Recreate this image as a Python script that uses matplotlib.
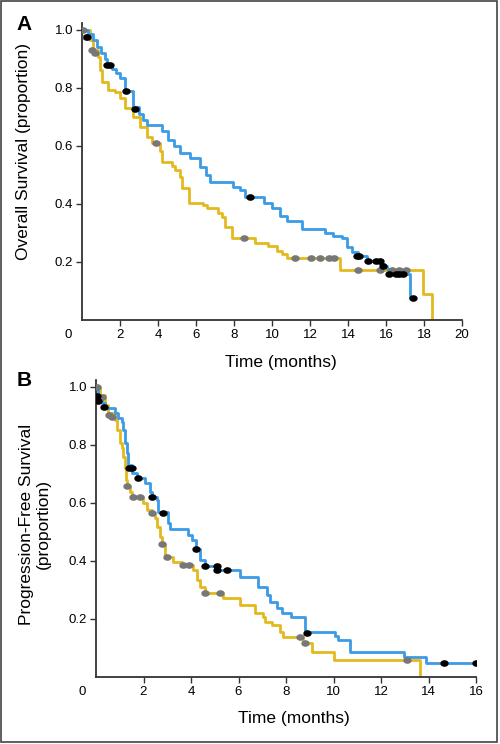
import matplotlib
matplotlib.use("Agg")
import matplotlib.pyplot as plt
from matplotlib.path import Path
from matplotlib.patches import Rectangle
import numpy as np

plt.rcParams['font.family'] = ['Liberation Sans', 'DejaVu Sans']

blue = "#3a9be6"
yellow = "#e3b91e"
grey_dot = "#777777"

# panel A - overall survival
os_blue_t = [0, 0.3, 0.58, 0.8, 1.0, 1.2, 1.3, 1.6, 1.8, 2.0, 2.25, 2.7, 3.0, 3.2, 3.42, 4.2, 4.5,
             4.85, 5.16, 5.7, 6.2, 6.5, 6.74, 7.95, 8.3, 8.6, 9.6, 10.0, 10.4, 10.8, 11.6, 12.8,
             13.2, 13.7, 13.95, 14.2, 14.5, 15.0, 15.7, 15.9, 16.05, 16.2, 17.26, 17.5]
os_blue_s = [1.0, 0.985, 0.967, 0.94, 0.92, 0.9, 0.88, 0.865, 0.85, 0.835, 0.79, 0.735, 0.71,
             0.69, 0.672, 0.65, 0.62, 0.6, 0.575, 0.558, 0.527, 0.5, 0.475, 0.46, 0.447, 0.423,
             0.405, 0.385, 0.36, 0.343, 0.315, 0.3, 0.29, 0.284, 0.25, 0.235, 0.222, 0.205,
             0.194, 0.185, 0.177, 0.16, 0.076, 0.076]
os_yel_t = [0, 0.42, 0.58, 0.84, 0.95, 1.05, 1.37, 1.74, 2.0, 2.26, 2.68, 3.05, 3.42, 3.68, 4.1,
            4.2, 4.74, 4.9, 5.16, 5.26, 5.62, 6.37, 6.58, 7.16, 7.37, 7.5, 7.9, 9.1, 9.8, 10.26,
            10.5, 10.8, 13.58, 17.95, 18.42]
os_yel_s = [1.0, 0.967, 0.932, 0.908, 0.863, 0.82, 0.794, 0.787, 0.766, 0.731, 0.70, 0.667,
            0.63, 0.61, 0.583, 0.544, 0.53, 0.516, 0.492, 0.454, 0.405, 0.395, 0.385, 0.37,
            0.354, 0.319, 0.281, 0.267, 0.256, 0.239, 0.229, 0.215, 0.173, 0.09, 0.0]
os_cens_blue_t = [0.25, 1.3, 1.45, 2.3, 2.8, 8.85, 14.47, 14.6, 15.05, 15.47, 15.7, 15.85,
                  16.15, 16.5, 16.7, 16.9, 17.4]
os_cens_blue_s = [0.975, 0.88, 0.88, 0.79, 0.728, 0.423, 0.222, 0.222, 0.205, 0.205, 0.205,
                  0.185, 0.16, 0.16, 0.16, 0.16, 0.076]
os_cens_yel_t = [0.05, 0.2, 0.53, 0.68, 3.9, 8.5, 11.2, 12.05, 12.5, 13.0, 13.26, 14.5, 15.68,
                 16.3, 16.7, 17.05]
os_cens_yel_s = [1.0, 0.975, 0.93, 0.92, 0.61, 0.281, 0.215, 0.215, 0.215, 0.215, 0.215,
                 0.173, 0.173, 0.173, 0.173, 0.173]

# panel B - progression-free survival
pfs_blue_t = [0, 0.08, 0.25, 0.38, 0.8, 0.93, 1.1, 1.14, 1.22, 1.3, 1.35, 1.52, 1.73, 2.07,
              2.28, 2.36, 2.57, 2.62, 3.04, 3.12, 3.88, 4.05, 4.22, 4.39, 4.6, 5.15, 6.08, 6.84,
              7.2, 7.34, 7.64, 7.85, 8.19, 8.82, 10.08, 10.2, 10.7, 12.95, 13.88, 16.07]
pfs_blue_s = [1.0, 0.955, 0.945, 0.928, 0.91, 0.893, 0.879, 0.852, 0.807, 0.772, 0.731, 0.703,
              0.686, 0.669, 0.638, 0.62, 0.61, 0.569, 0.531, 0.51, 0.49, 0.472, 0.441, 0.403,
              0.383, 0.369, 0.345, 0.31, 0.283, 0.259, 0.238, 0.22, 0.207, 0.155, 0.14, 0.128,
              0.086, 0.069, 0.048, 0.048]
pfs_yel_t = [0, 0.17, 0.38, 0.5, 0.8, 0.89, 1.0, 1.1, 1.14, 1.22, 1.27, 1.31, 1.43, 1.52, 1.98,
             2.15, 2.36, 2.49, 2.57, 2.7, 2.78, 2.91, 3.25, 3.63, 4.09, 4.26, 4.39, 4.6, 5.36,
             6.08, 6.7, 7.05, 7.13, 7.43, 7.76, 7.89, 8.73, 9.11, 10.0, 13.63]
pfs_yel_s = [1.0, 0.972, 0.938, 0.91, 0.886, 0.852, 0.807, 0.79, 0.759, 0.72, 0.679, 0.659,
             0.638, 0.62, 0.6, 0.576, 0.566, 0.548, 0.517, 0.483, 0.459, 0.414, 0.397, 0.386,
             0.369, 0.334, 0.31, 0.29, 0.272, 0.248, 0.221, 0.207, 0.19, 0.179, 0.155, 0.138,
             0.117, 0.086, 0.059, 0.0]
pfs_cens_blue_t = [0.05, 0.1, 0.35, 1.4, 1.5, 1.78, 2.36, 2.82, 4.22, 4.6, 5.1, 5.1, 5.5, 8.9,
                   14.66, 16.0]
pfs_cens_blue_s = [0.97, 0.95, 0.93, 0.72, 0.72, 0.686, 0.62, 0.566, 0.441, 0.383, 0.383,
                   0.369, 0.369, 0.152, 0.048, 0.048]
pfs_cens_yel_t = [0.04, 0.25, 0.55, 0.68, 1.31, 1.57, 1.86, 2.36, 2.78, 2.99, 3.67, 3.93, 4.6,
                  5.2, 8.6, 8.78, 13.1]
pfs_cens_yel_s = [1.0, 0.966, 0.903, 0.897, 0.659, 0.62, 0.62, 0.566, 0.459, 0.414, 0.386,
                  0.386, 0.29, 0.29, 0.138, 0.117, 0.059]

y_ticks = [0.2, 0.4, 0.6, 0.8, 1.0]
y_labels = ["0.2", "0.4", "0.6", "0.8", "1.0"]

# squashed circle for the censor marks
circ = Path.unit_circle()
ellipse = Path(circ.vertices * np.array([1.0, 0.75]), circ.codes)

fig = plt.figure(figsize=(5, 7.44), dpi=100)


def km_panel(ax, bt, bs, yt, ys, cbt, cbs, cyt, cys, xmax, xticks):
    ax.step(yt, ys, where="post", color=yellow, lw=2.0, zorder=2)
    ax.step(bt, bs, where="post", color=blue, lw=2.0, zorder=3)
    ax.plot(cyt, cys, ls="none", marker=ellipse, ms=5, color=grey_dot, zorder=4)
    ax.plot(cbt, cbs, ls="none", marker=ellipse, ms=5, color="black", zorder=5)
    ax.set_xlim(0, xmax)
    ax.set_ylim(0, 1.024)
    ax.set_xticks(xticks)
    ax.set_xticklabels([str(x) for x in xticks])
    ax.set_yticks(y_ticks)
    ax.set_yticklabels(y_labels)
    for s in ["top", "right"]:
        ax.spines[s].set_visible(False)
    for s in ["left", "bottom"]:
        ax.spines[s].set_color("#333333")
        ax.spines[s].set_linewidth(1.3)
    ax.tick_params(direction="out", length=4, width=1.0, color="#333333",
                   labelsize=9.5, pad=2.5)


axA = fig.add_axes([82 / 500, 1 - 320 / 744, 380 / 500, 297 / 744])
km_panel(axA, os_blue_t, os_blue_s, os_yel_t, os_yel_s, os_cens_blue_t, os_cens_blue_s,
         os_cens_yel_t, os_cens_yel_s, 20, list(range(2, 21, 2)))

axB = fig.add_axes([96 / 500, 1 - 677 / 744, 380 / 500, 297 / 744])
km_panel(axB, pfs_blue_t, pfs_blue_s, pfs_yel_t, pfs_yel_s, pfs_cens_blue_t, pfs_cens_blue_s,
         pfs_cens_yel_t, pfs_cens_yel_s, 16, list(range(2, 17, 2)))

# zero labels sit at the corner
fig.text(68 / 500, 1 - 335 / 744, "0", fontsize=9.5, ha="center", va="center")
fig.text(82 / 500, 1 - 692 / 744, "0", fontsize=9.5, ha="center", va="center")

fig.text(281 / 500, 1 - 362 / 744, "Time (months)", fontsize=12.5, ha="center", va="center")
fig.text(294 / 500, 1 - 718 / 744, "Time (months)", fontsize=12.5, ha="center", va="center")

fig.text(24 / 500, 1 - 152 / 744, "Overall Survival (proportion)", fontsize=12.5,
         rotation=90, ha="center", va="center")
fig.text(35 / 500, 1 - 524 / 744, "Progression-Free Survival\n(proportion)", fontsize=12.5,
         rotation=90, ha="center", va="center", multialignment="center", linespacing=1.15)

fig.text(24 / 500, 1 - 25 / 744, "A", fontsize=15, fontweight="bold", ha="center", va="center")
fig.text(24 / 500, 1 - 380 / 744, "B", fontsize=15, fontweight="bold", ha="center", va="center")

fig.patches.append(Rectangle((0.002, 0.003), 0.992, 0.995, transform=fig.transFigure,
                             fill=False, edgecolor="#444444", lw=1.2))

fig.savefig("out.png", dpi=100)
